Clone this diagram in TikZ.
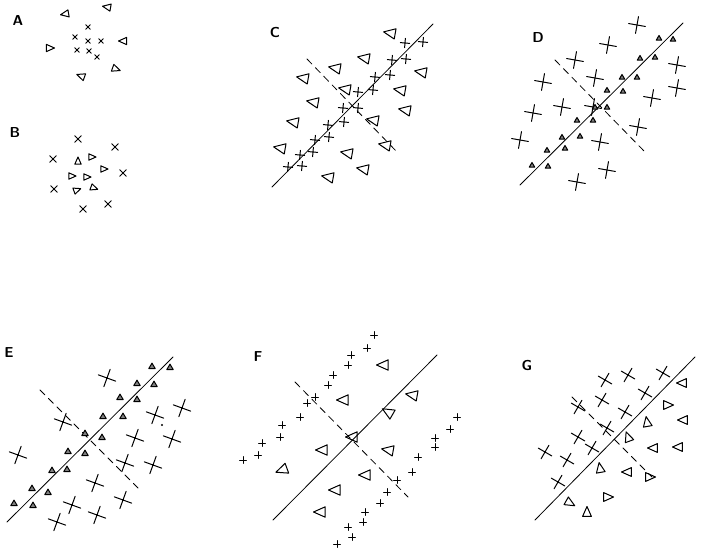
\documentclass[tikz,border=0pt]{standalone}
\begin{document}
\begin{tikzpicture}[x=1pt,y=-1pt, line cap=round, line join=round, line width=1pt,
  tri/.pic={\draw (-1,0)--(0.8,-0.8)--(0.8,0.8)--cycle;},
  trup/.pic={\draw[fill=black!50] (-1,0.8)--(1,0.8)--(0,-0.9)--cycle;},
  crs/.pic={\draw (-1,-1)--(1,1) (-1,1)--(1,-1);},
  lbl/.style={font=\sffamily\bfseries\Large},
  mainline/.style={line width=0.8pt},
  cutline/.style={line width=0.8pt, dash pattern=on 7pt off 5pt}]
\useasboundingbox[fill=white] (0,0) rectangle (727,554);
% ---------- A
\node[lbl] (labA) at (18,21) {A};
\foreach \x/\y/\r in {65/14/10, 107/7/-10, 123/41/0, 50/48/180, 81/76/-20, 116/69/160}
  \pic[scale=4.5,rotate=\r] at (\x,\y) {tri};
\foreach \x/\y in {88/27, 75/37, 88/41, 101/41, 77/50, 89/51, 97/57}
  \pic[scale=2.3] at (\x,\y) {crs};
% ---------- B
\node[lbl] (labB) at (15,133) {B};
\foreach \x/\y in {78/139, 115/147, 53/159, 123/173, 54/189, 83/209, 108/204}
  \pic[scale=3.2] at (\x,\y) {crs};
\foreach \x/\y/\r in {78/161/-90, 92/157/180, 104/169/180, 72/176/180, 87/177/180, 77/190/200, 94/188/160}
  \pic[scale=4,rotate=\r] at (\x,\y) {tri};
% ---------- C
\node[lbl] (labC) at (275,32) {C};
\coordinate (c1) at (272,187); \coordinate (c2) at (433,24);
\coordinate (c3) at (307,59); \coordinate (c4) at (398,153);
\draw[mainline] (c1) -- (c2);
\draw[cutline] (c3) -- (c4);
\foreach \x/\y in {390/33, 364/58, 335/68, 303/78, 421/72, 345/89, 400/90, 313/102, 405/110, 293/122, 373/120, 385/145, 280/148, 347/153, 363/169, 328/177}
  \pic[scale=6.5,rotate=-10] at (\x,\y) {tri};
\foreach \x/\y in {405/43, 423/42, 392/60, 406/59, 375/77, 390/75, 358/92, 373/90, 343/108, 358/108, 328/125, 344/122, 315/140, 329/137, 300/155, 313/152, 288/167, 302/166}
  \pic[scale=3.3,rotate=40] at (\x,\y) {crs};
% ---------- D
\node[lbl] (labD) at (538,38) {D};
\coordinate (d1) at (520,185); \coordinate (d2) at (683,23);
\coordinate (d3) at (555,60); \coordinate (d4) at (645,152);
\draw[mainline] (d1) -- (d2);
\draw[cutline] (d3) -- (d4);
\foreach \x/\y in {637/25, 608/45, 575/60, 677/65, 543/82, 595/78, 677/88, 652/98, 562/107, 593/107, 533/113, 638/127, 520/140, 600/142, 607/170, 577/182}
  \pic[scale=6,rotate=35] at (\x,\y) {crs};
\foreach \x/\y in {659/38, 673/39, 640/58, 655/57, 622/77, 637/77, 607/90, 623/91, 595/107, 607/107, 577/120, 593/120, 562/137, 580/136, 547/150, 565/148, 532/165, 548/166}
  \pic[scale=2.8] at (\x,\y) {trup};
% ---------- E
\node[lbl] (labE) at (9,353) {E};
\coordinate (e1) at (7,522); \coordinate (e2) at (173,357);
\coordinate (e3) at (40,390); \coordinate (e4) at (138,488);
\draw[mainline] (e1) -- (e2);
\draw[cutline] (e3) -- (e4);
\foreach \x/\y in {152/366, 170/367, 137/383, 154/384, 120/397, 137/399, 103/416, 123/416, 85/433, 102/437, 68/451, 85/453, 52/470, 67/469, 32/488, 48/492, 14/503, 33/505}
  \pic[scale=3.2] at (\x,\y) {trup};
\foreach \x/\y in {107/378, 63/422, 182/408, 155/415, 135/438, 172/439, 18/455, 125/463, 153/465, 95/483, 123/500, 72/505, 97/515, 57/522}
  \pic[scale=6.5,rotate=25] at (\x,\y) {crs};
\fill (162,425) circle (1.2pt);
% ---------- F
\node[lbl] (labF) at (258,357) {F};
\coordinate (f1) at (273,520); \coordinate (f2) at (437,355);
\coordinate (f3) at (295,382); \coordinate (f4) at (408,497);
\draw[mainline] (f1) -- (f2);
\draw[cutline] (f3) -- (f4);
\foreach \x/\y/\r in {383/365/0, 343/400/0, 412/395/-10, 388/412/-30, 352/437/0, 322/450/0, 388/450/-10, 282/470/20, 365/475/0, 335/490/0, 320/512/0}
  \pic[scale=6.5,rotate=\r] at (\x,\y) {tri};
\foreach \x/\y in {374/335, 367/348, 351/355, 348/365, 333/375, 328/385, 315/397, 307/403, 300/417, 282/425, 280/437, 262/443, 258/455, 243/460,
  457/417, 450/429, 435/438, 435/447, 418/457, 412/472, 397/480, 387/492, 380/503, 365/512, 363/522, 348/527, 352/537, 337/544}
  \pic[scale=2.4,rotate=45] at (\x,\y) {crs};
% ---------- G
\node[lbl] (labG) at (527,365) {G};
\coordinate (g1) at (535,520); \coordinate (g2) at (695,357);
\coordinate (g3) at (572,397); \coordinate (g4) at (652,477);
\draw[mainline] (g1) -- (g2);
\draw[cutline] (g3) -- (g4);
\foreach \x/\y in {605/380, 628/375, 663/373, 578/407, 602/400, 645/393, 625/412, 607/428, 578/437, 545/452, 592/448, 567/460, 558/482}
  \pic[scale=5.5,rotate=15] at (\x,\y) {crs};
\foreach \x/\y/\r in {682/383/0, 668/405/180, 683/420/0, 647/422/-80, 628/437/-70, 653/448/0, 678/447/0, 600/468/-80, 627/472/0, 650/477/180, 608/497/180, 570/503/150, 587/512/-90}
  \pic[scale=5.5,rotate=\r] at (\x,\y) {tri};
\end{tikzpicture}
\end{document}
